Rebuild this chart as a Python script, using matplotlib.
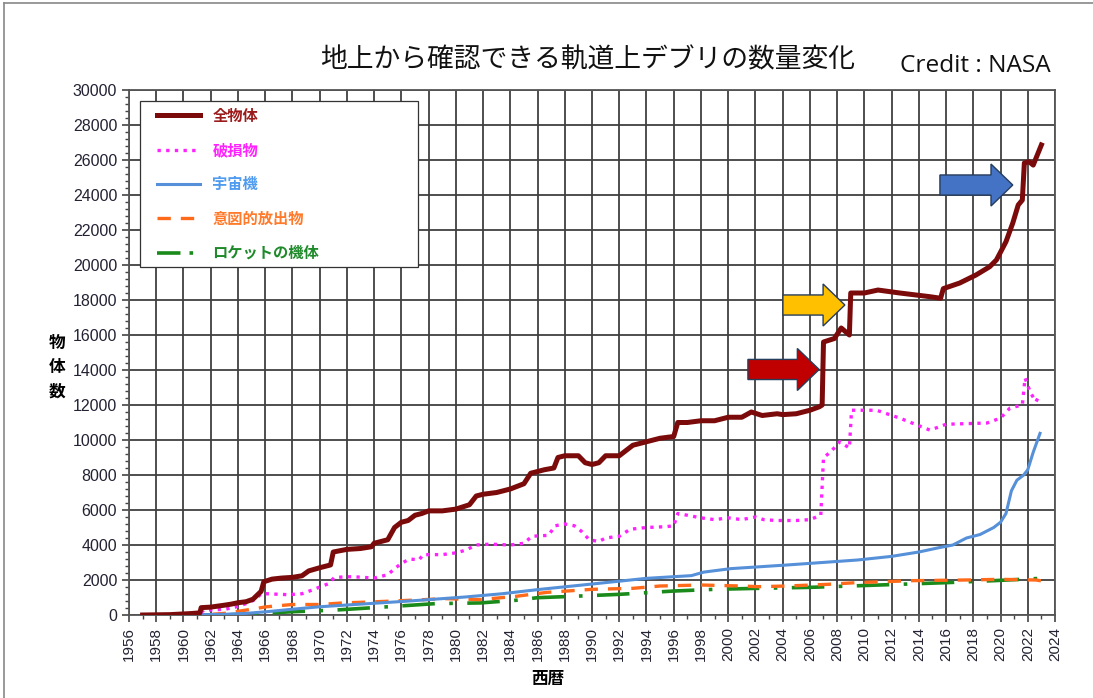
import matplotlib
matplotlib.use("Agg")
import matplotlib.pyplot as plt
from matplotlib.patches import Rectangle, FancyArrow
from matplotlib.lines import Line2D
from matplotlib.ticker import MultipleLocator
from matplotlib.font_manager import FontProperties

plt.rcParams['font.family'] = ['Liberation Sans', 'Noto Sans CJK JP', 'DejaVu Sans']

# データ
total_year = [1957.0, 1959.0, 1960.5, 1961.2, 1961.3, 1962.0, 1963.0, 1963.5, 1964.0, 1964.6,
              1965.1, 1965.5, 1965.7, 1965.9, 1966.5, 1967.2, 1968.0, 1968.7, 1969.2, 1970.0,
              1970.8, 1971.0, 1972.0, 1973.0, 1973.8, 1974.0, 1975.0, 1975.5, 1976.0, 1976.5,
              1977.0, 1977.5, 1978.0, 1979.0, 1980.0, 1981.0, 1981.5, 1982.0, 1983.0, 1984.0,
              1985.0, 1985.5, 1986.5, 1987.2, 1987.5, 1988.0, 1989.0, 1989.5, 1990.0, 1990.5,
              1991.0, 1992.0, 1992.5, 1993.0, 1994.0, 1995.0, 1996.0, 1996.3, 1997.0, 1998.0,
              1999.0, 2000.0, 2001.0, 2001.7, 2002.5, 2003.6, 2004.0, 2005.0, 2006.0, 2006.7,
              2006.9, 2007.0, 2007.8, 2008.3, 2008.9, 2009.0, 2010.0, 2011.0, 2012.6, 2014.8,
              2015.6, 2015.8, 2017.0, 2018.2, 2019.2, 2019.7, 2020.4, 2020.9, 2021.3, 2021.6,
              2021.75, 2022.1, 2022.4, 2023.0]
total_val = [0, 20, 80, 120, 420, 450, 560, 620, 700, 760,
             900, 1200, 1350, 1900, 2050, 2110, 2150, 2240, 2520, 2700,
             2860, 3600, 3750, 3800, 3900, 4100, 4300, 5000, 5300, 5400,
             5700, 5800, 5950, 5950, 6050, 6300, 6800, 6900, 7000, 7200,
             7500, 8100, 8300, 8400, 9000, 9100, 9100, 8700, 8600, 8700,
             9100, 9100, 9400, 9700, 9900, 10100, 10200, 11000, 11000, 11100,
             11100, 11300, 11300, 11600, 11400, 11500, 11450, 11500, 11700, 11900,
             12000, 15600, 15800, 16400, 16000, 18400, 18400, 18570, 18400, 18190,
             18100, 18650, 18970, 19430, 19900, 20290, 21330, 22400, 23430, 23710,
             25830, 25900, 25710, 26860]

debris_year = [1961.3, 1961.5, 1963.0, 1963.8, 1964.6, 1965.3, 1965.7, 1966.1, 1967.7, 1968.7,
               1969.5, 1970.6, 1971.1, 1972.4, 1974.0, 1975.0, 1975.6, 1976.1, 1976.6, 1977.3,
               1977.6, 1979.0, 1980.0, 1980.7, 1981.5, 1982.5, 1984.0, 1985.0, 1985.6, 1986.8,
               1987.3, 1988.0, 1988.7, 1989.2, 1989.8, 1990.5, 1991.0, 1992.0, 1992.8, 1994.0,
               1995.5, 1996.0, 1996.3, 1997.0, 1998.0, 1999.0, 2000.0, 2001.0, 2002.0, 2002.6,
               2003.5, 2005.0, 2006.0, 2006.8, 2007.0, 2007.5, 2008.2, 2008.9, 2009.06, 2010.9,
               2012.6, 2014.8, 2015.5, 2016.0, 2019.0, 2020.0, 2020.7, 2021.6, 2021.8, 2022.2,
               2022.6, 2022.8]
debris_val = [150, 280, 320, 450, 650, 900, 1215, 1215, 1160, 1215,
              1440, 1775, 2150, 2190, 2110, 2300, 2710, 2990, 3200, 3150,
              3450, 3450, 3550, 3700, 4000, 4050, 4000, 4100, 4500, 4550,
              5100, 5200, 5100, 4800, 4300, 4200, 4400, 4500, 4900, 5000,
              5050, 5100, 5800, 5700, 5550, 5450, 5550, 5450, 5600, 5450,
              5400, 5400, 5450, 5700, 9000, 9300, 9900, 9540, 11700, 11700,
              11250, 10570, 10750, 10900, 10970, 11250, 11830, 12000, 13540, 12700,
              12190, 12470]

craft_year = [1957.5, 1960.0, 1963.0, 1964.6, 1966.1, 1968.0, 1970.0, 1973.6, 1976.6, 1980.7,
              1983.4, 1986.2, 1990.0, 1994.0, 1997.3, 1998.2, 2000.2, 2004.3, 2006.0, 2009.5,
              2012.0, 2014.0, 2015.5, 2016.5, 2017.5, 2018.5, 2019.5, 2020.0, 2020.4, 2020.8,
              2021.2, 2021.7, 2022.0, 2022.4, 2022.9]
craft_val = [0, 10, 40, 93, 187, 330, 470, 650, 800, 1030,
             1215, 1467, 1770, 2095, 2250, 2450, 2650, 2857, 2950, 3143,
             3350, 3600, 3850, 4000, 4400, 4600, 5000, 5300, 5800, 7100,
             7700, 8000, 8300, 9300, 10380]

mission_year = [1957.0, 1961.4, 1963.0, 1964.6, 1966.1, 1968.0, 1970.0, 1971.7, 1973.9, 1976.6,
                1979.2, 1981.8, 1984.4, 1986.7, 1990.0, 1993.0, 1995.0, 1998.0, 2001.0, 2002.2,
                2004.3, 2007.3, 2009.4, 2013.5, 2017.4, 2020.0, 2022.6, 2023.0]
mission_val = [0, 0, 93, 280, 470, 600, 600, 690, 750, 840,
               935, 880, 1065, 1295, 1467, 1524, 1657, 1714, 1657, 1619,
               1657, 1752, 1848, 1962, 2000, 2038, 2000, 1950]

rocket_year = [1957.0, 1963.0, 1965.8, 1968.0, 1971.1, 1975.0, 1978.5, 1981.8, 1984.4, 1986.0,
               1988.0, 1992.0, 1996.0, 1999.0, 2002.2, 2006.0, 2009.0, 2012.5, 2016.0, 2019.5,
               2023.0]
rocket_val = [0, 0, 93, 187, 280, 470, 650, 690, 840, 990,
              1048, 1180, 1370, 1467, 1524, 1580, 1657, 1752, 1848, 1962,
              2095]

labels = ["全物体", "破損物", "宇宙機", "意図的放出物", "ロケットの機体"]
label_colors = ["#9b1b1b", "#ff22ff", "#4f9bef", "#ff7a2a", "#1e8a2a"]

# 矢印 (先端の年, 値, 長さ)
arrows = [
    (2020.9, 24570, 5.35, "#4472c4"),
    (2008.57, 17714, 4.55, "#ffc000"),
    (2006.68, 14030, 5.23, "#c00000"),
]

fig = plt.figure(figsize=(10.93, 6.98), dpi=100)
ax = fig.add_axes([129 / 1093, 1 - 615 / 698, 926 / 1093, 525 / 698])

ax.plot(rocket_year, rocket_val, color="#1a8a1a", lw=2.6, linestyle=(0, (9, 4, 1, 4)), zorder=3)
ax.plot(mission_year, mission_val, color="#ff6a1a", lw=2.4, linestyle=(0, (4, 3)), zorder=3)
ax.plot(craft_year, craft_val, color="#5590d9", lw=2.2, zorder=3)
ax.plot(debris_year, debris_val, color="#ff22ff", lw=2.4, linestyle=(0, (1, 1.6)), zorder=3)
ax.plot(total_year, total_val, color="#7b0a0a", lw=3.6, zorder=4)

ax.set_xlim(1956, 2024)
ax.set_ylim(0, 30000)
ax.xaxis.set_major_locator(MultipleLocator(2))
ax.xaxis.set_minor_locator(MultipleLocator(1))
ax.yaxis.set_major_locator(MultipleLocator(2000))
ax.yaxis.set_minor_locator(MultipleLocator(400))
ax.grid(True, which="major", color="#404040", lw=1.3)
ax.set_axisbelow(True)
for s in ax.spines.values():
    s.set_color("#555555")
    s.set_linewidth(1.3)
ax.tick_params(axis="both", which="major", length=5, width=1.2, color="#444444",
               labelsize=11.5, labelcolor="#222233")
ax.tick_params(axis="x", labelsize=11)
ax.tick_params(axis="both", which="minor", length=3, width=1.0, color="#444444")
ax.tick_params(axis="x", labelrotation=90)

for tip, yv, length, col in arrows:
    ax.add_patch(FancyArrow(tip - length, yv, length, 0, width=1150, head_width=2400,
                            head_length=1.6, length_includes_head=True,
                            facecolor=col, edgecolor="#263d5c", lw=1.0, zorder=6))

# 凡例
ax.add_patch(Rectangle((0.012, 0.663), 0.3, 0.316, transform=ax.transAxes,
                       facecolor="white", edgecolor="#333333", lw=0.9, zorder=7))
handles = [
    Line2D([], [], color="#7b0a0a", lw=3.6),
    Line2D([], [], color="#ff22ff", lw=2.4, linestyle=(0, (1, 1.6))),
    Line2D([], [], color="#5590d9", lw=2.2),
    Line2D([], [], color="#ff6a1a", lw=2.4, linestyle=(0, (4, 3))),
    Line2D([], [], color="#1a8a1a", lw=2.6, linestyle=(0, (6.5, 2.5, 1, 2.5))),
]
leg = ax.legend(handles, labels, loc="upper left", bbox_to_anchor=(0.024, 0.978),
                frameon=False, prop=FontProperties(family="Noto Sans CJK JP", weight="bold", size=11),
                labelcolor=label_colors, handlelength=2.8, handletextpad=0.8,
                labelspacing=1.2, borderaxespad=0)
leg.set_zorder(8)

fig.text(588 / 1093, 1 - 60 / 698, "地上から確認できる軌道上デブリの数量変化",
         family="Noto Sans CJK JP", size=19.3, ha="center", va="center", color="#111111")
fig.text(975 / 1093, 1 - 66 / 698, "Credit : NASA", family="Open Sans", size=17.6,
         ha="center", va="center", color="#111111")
fig.text(57 / 1093, 1 - 367 / 698, "物\n体\n数", family="Noto Sans CJK JP", weight="bold",
         size=12, ha="center", va="center", linespacing=1.45)
fig.text(548 / 1093, 1 - 679 / 698, "西暦", family="Noto Sans CJK JP", weight="bold",
         size=12, ha="center", va="center")

# 外枠
fig.add_artist(Line2D([4 / 1093, 4 / 1093], [0, 1 - 3 / 698], color="#888888", lw=1.2))
fig.add_artist(Line2D([4 / 1093, 1], [1 - 3 / 698, 1 - 3 / 698], color="#888888", lw=1.2))

fig.savefig("out.png", dpi=100)
